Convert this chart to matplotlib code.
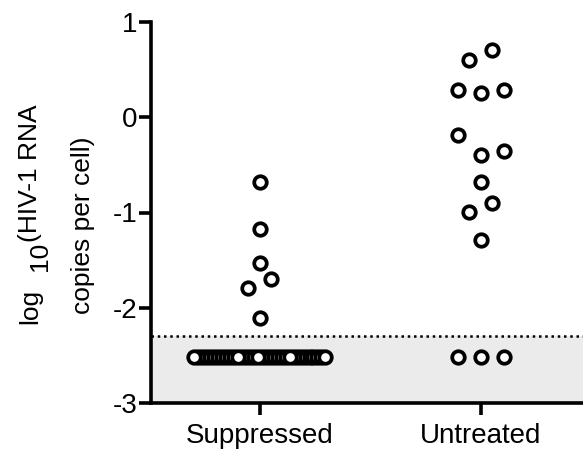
import numpy as np
import matplotlib
matplotlib.use('Agg')
import matplotlib.pyplot as plt

plt.rcParams['font.family'] = ['Liberation Sans', 'DejaVu Sans']

# data: log10 HIV-1 RNA copies per cell
groups = ['Suppressed', 'Untreated']
suppressed = [-0.68, -1.17, -1.53, -1.70, -1.79, -2.11]
untreated = [0.71, 0.60, 0.29, 0.25, 0.29, -0.19, -0.40, -0.35,
             -0.68, -0.99, -0.90, -1.29]
below_limit = -2.52          # value plotted for samples below detection
n_below = [34, 3]            # samples below detection in each group
detect_limit = -2.3
yticks = [-3, -2, -1, 0, 1]

# horizontal slots for the scatter (layout, not data)
slot = 0.104
suppressed_slots = [0, 0, 0, 0.5, -0.5, 0]
untreated_slots = [0.5, -0.5, -1, 0, 1, -1, 0, 1, 0, -0.5, 0.5, 0]
below_spread = [2.85, 1.0]

fig = plt.figure(figsize=(5.83, 4.55), dpi=100)
W, H = 583, 455
ax = fig.add_axes([150.5 / W, 1 - 403 / H, 1 - 150.5 / W, (403 - 22) / H])

ax.set_xlim(-0.495, 1.462)
ax.set_ylim(-3, 1)

# shaded region below detection limit + dotted line
ax.axhspan(-3, detect_limit, color='#ebebeb', zorder=0, lw=0)
ax.axhline(detect_limit, color='black', lw=1.8, ls=(0, (1, 1.5)), zorder=1)

mk = dict(marker='o', ms=9.0, mfc='white', mec='black', mew=2.7,
          ls='none', zorder=3, clip_on=False)

for i, (vals, slots) in enumerate([(suppressed, suppressed_slots),
                                   (untreated, untreated_slots)]):
    xs = i + np.array(slots) * slot
    ax.plot(xs, vals, **mk)
    n = n_below[i]
    bx = i + np.linspace(-below_spread[i], below_spread[i], n) * slot
    # draw order: a few circles end up on top, like the original
    if n > 5:
        top = [0, 11, 16, 24, n - 1]
        order = [k for k in range(n) if k not in top] + top
    else:
        order = list(range(n))
    for k in order:
        ax.plot(bx[k], below_limit, **mk)

ax.set_xticks(range(len(groups)))
ax.set_xticklabels(groups, fontsize=20)
ax.set_yticks(yticks)
ax.set_yticklabels([str(t) for t in yticks], fontsize=20)

for s in ['top', 'right']:
    ax.spines[s].set_visible(False)
for s in ['left', 'bottom']:
    ax.spines[s].set_linewidth(2.6)
ax.tick_params(axis='both', width=2.6, length=8.5, color='black')
ax.tick_params(axis='y', pad=1)
ax.tick_params(axis='x', pad=6)

# y label built from pieces (lowered "10")
lab = dict(rotation=90, rotation_mode='anchor', ha='left', va='baseline',
           fontsize=19)
fig.text(37 / W, 1 - 324 / H, 'log', **lab)
fig.text(47 / W, 1 - 271 / H, '10', **lab)
fig.text(37 / W, 1 - 242 / H, '(HIV-1 RNA', **lab)
fig.text(90 / W, 1 - 225 / H, 'copies per cell)', rotation=90,
         rotation_mode='anchor', ha='center', va='baseline', fontsize=19)

fig.savefig('out.png', dpi=100)
